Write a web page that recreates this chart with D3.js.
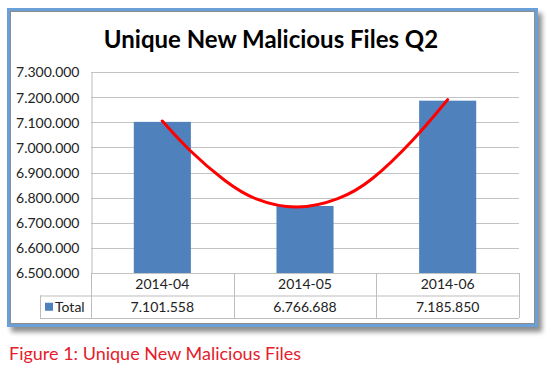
<!DOCTYPE html>
<html lang="en">
<head>
<meta charset="utf-8">
<title>Unique New Malicious Files Q2</title>
<script src="https://d3js.org/d3.v7.min.js"></script>
<style>
  body { margin: 0; background: #fff; }
  text { font-family: Lato, "Open Sans", sans-serif; }
</style>
</head>
<body>
<script>
// DATA
var months = ["2014-04", "2014-05", "2014-06"];
var totals = [7101558, 6766688, 7185850];
var totalLabels = ["7.101.558", "6.766.688", "7.185.850"];
var yTicks = [6500000, 6600000, 6700000, 6800000, 6900000, 7000000, 7100000, 7200000, 7300000];
// hand drawn red trend curve: position in category units (0 = first month) and value
var curveIdx = [0, 0.18, 0.446, 0.64, 0.944, 1.245, 1.455, 1.77, 2.0];
var curveVal = [7105000, 6990000, 6860000, 6790000, 6748000, 6792000, 6858000, 7032000, 7190000];

var w = 549, h = 368;
var plotL = 91, plotR = 519, plotT = 72, plotB = 273;
var rowH = 22.5;

var svg = d3.select("body").append("svg")
  .attr("width", w).attr("height", h);

// shadow filter
var defs = svg.append("defs");
var f = defs.append("filter").attr("id", "shadow")
  .attr("x", "-5%").attr("y", "-5%").attr("width", "115%").attr("height", "115%");
f.append("feGaussianBlur").attr("in", "SourceAlpha").attr("stdDeviation", 2.5);
f.append("feOffset").attr("dx", 4).attr("dy", 5).attr("result", "b");
f.append("feComponentTransfer").append("feFuncA").attr("type", "linear").attr("slope", 0.45);
var fm = f.append("feMerge");
fm.append("feMergeNode");
fm.append("feMergeNode").attr("in", "SourceGraphic");

// FRAME
svg.append("rect")
  .attr("x", 8.5).attr("y", 9.5).attr("width", 528).attr("height", 316)
  .attr("fill", "#fff").attr("stroke", "#6a9fd8").attr("stroke-width", 3)
  .attr("filter", "url(#shadow)");
svg.append("rect")
  .attr("x", 10.5).attr("y", 11.5).attr("width", 524).attr("height", 312)
  .attr("fill", "none").attr("stroke", "#8c8c8c").attr("stroke-width", 1);

// TITLE
svg.append("text")
  .attr("x", 271).attr("y", 48)
  .attr("text-anchor", "middle")
  .attr("font-size", "24px").attr("font-weight", "bold")
  .attr("fill", "#000")
  .text("Unique New Malicious Files Q2");

// SCALES
var x = d3.scaleBand().domain(months).range([plotL, plotR]).padding(0);
var y = d3.scaleLinear().domain([6500000, 7300000]).range([plotB, plotT]);
var xc = d3.scaleLinear().domain([0, 1]).range([x(months[0]) + x.bandwidth() / 2, x(months[1]) + x.bandwidth() / 2]);

// GRID
svg.selectAll(".grid").data(yTicks).enter().append("line")
  .attr("class", "grid")
  .attr("x1", plotL).attr("x2", plotR)
  .attr("y1", function(d) { return Math.round(y(d)) + 0.5; })
  .attr("y2", function(d) { return Math.round(y(d)) + 0.5; })
  .attr("stroke", "#c3c3c3").attr("stroke-width", 1);

// Y AXIS
var yAxis = d3.axisLeft(y).tickValues(yTicks).tickSize(0).tickPadding(12)
  .tickFormat(function(d) { return d3.format(",")(d).replace(/,/g, "."); });
var ga = svg.append("g").attr("transform", "translate(" + (plotL + 0.5) + ",0.5)").call(yAxis);
ga.select(".domain").attr("stroke", "#bdbdbd");
ga.selectAll("text").attr("font-size", "14px").attr("fill", "#222")
  .attr("font-family", "Lato, sans-serif");

// BARS
var bw = x.bandwidth() * 0.4;
svg.selectAll(".bar").data(totals).enter().append("rect")
  .attr("class", "bar")
  .attr("x", function(d, i) { return x(months[i]) + x.bandwidth() / 2 - bw / 2; })
  .attr("y", function(d) { return y(d); })
  .attr("width", bw)
  .attr("height", function(d) { return plotB - y(d); })
  .attr("fill", "#4f81bd");

// RED CURVE
var pts = curveIdx.map(function(d, i) { return [xc(d), y(curveVal[i])]; });
svg.append("path")
  .attr("d", d3.line().curve(d3.curveBasis)(pts))
  .attr("fill", "none").attr("stroke", "#ff0000")
  .attr("stroke-width", 3).attr("stroke-linecap", "round");

// DATA TABLE
var tbl = svg.append("g").attr("stroke", "#bdbdbd").attr("stroke-width", 1);
var r1 = plotB + rowH, r2 = plotB + 2 * rowH;
tbl.append("line").attr("x1", 40).attr("x2", plotR).attr("y1", r1 + 0.5).attr("y2", r1 + 0.5);
tbl.append("line").attr("x1", 40).attr("x2", plotR).attr("y1", r2 + 0.5).attr("y2", r2 + 0.5);
tbl.append("line").attr("x1", 40.5).attr("x2", 40.5).attr("y1", r1).attr("y2", r2);
tbl.selectAll(".vl").data(months.concat(["end"])).enter().append("line")
  .attr("x1", function(d, i) { return Math.round(plotL + i * x.bandwidth()) + 0.5; })
  .attr("x2", function(d, i) { return Math.round(plotL + i * x.bandwidth()) + 0.5; })
  .attr("y1", plotB).attr("y2", r2);

svg.selectAll(".cat").data(months).enter().append("text")
  .attr("x", function(d) { return x(d) + x.bandwidth() / 2; })
  .attr("y", plotB + rowH / 2 + 5)
  .attr("text-anchor", "middle").attr("font-size", "14px").attr("fill", "#222")
  .text(function(d) { return d; });

svg.selectAll(".val").data(totalLabels).enter().append("text")
  .attr("x", function(d, i) { return x(months[i]) + x.bandwidth() / 2; })
  .attr("y", r1 + rowH / 2 + 5)
  .attr("text-anchor", "middle").attr("font-size", "14px").attr("fill", "#222")
  .text(function(d) { return d; });

svg.append("rect").attr("x", 45).attr("y", r1 + rowH / 2 - 4).attr("width", 8).attr("height", 8)
  .attr("fill", "#4f81bd");
svg.append("text").attr("x", 55).attr("y", r1 + rowH / 2 + 5)
  .attr("font-size", "14px").attr("fill", "#222").text("Total");

// CAPTION
svg.append("text")
  .attr("x", 9).attr("y", 360)
  .attr("font-size", "18px").attr("fill", "#e5202b")
  .text("Figure 1: Unique New Malicious Files");
</script>
</body>
</html>
